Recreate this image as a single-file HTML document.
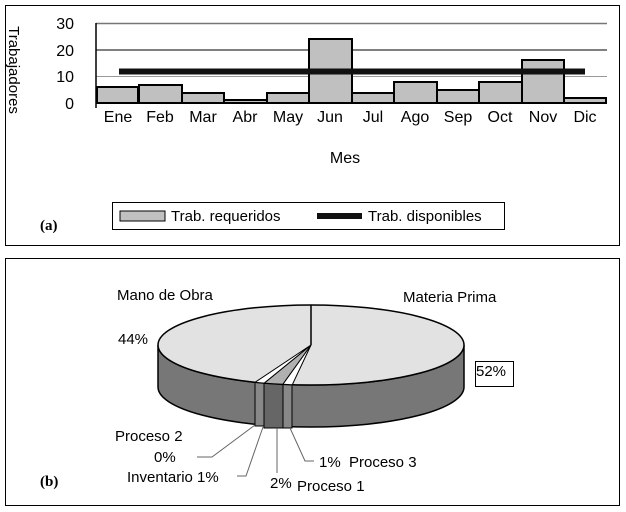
<!DOCTYPE html>
<html><head><style>
body{margin:0;background:#fff;}
svg{display:block;font-family:"Liberation Sans",sans-serif;}
</style></head><body>
<svg width="626" height="512" viewBox="0 0 626 512">
<rect x="5.5" y="5.5" width="614" height="240" fill="#fff" stroke="#000"/>
<rect x="5.5" y="258.5" width="614" height="247" fill="#fff" stroke="#000"/>
<line x1="96" y1="23.5" x2="607" y2="23.5" stroke="#777" stroke-width="1.5"/>
<line x1="96" y1="50" x2="607" y2="50" stroke="#000"/>
<line x1="96" y1="76.5" x2="607" y2="76.5" stroke="#999"/>
<line x1="96" y1="103" x2="607" y2="103" stroke="#000"/>
<line x1="96" y1="23" x2="96" y2="108" stroke="#000" stroke-width="1.5"/>
<g font-size="16" text-anchor="end">
<text x="74" y="29">30</text><text x="74" y="56">20</text><text x="74" y="82">10</text><text x="74" y="109">0</text>
</g>
<g stroke="#000" stroke-width="2" fill="#c0c0c0">
<rect x="97" y="87" width="41" height="16"/>
<rect x="139" y="85" width="43" height="18"/>
<rect x="182" y="93" width="42" height="10"/>
<rect x="224" y="100" width="43" height="3"/>
<rect x="267" y="93" width="42" height="10"/>
<rect x="309" y="39" width="43" height="64"/>
<rect x="352" y="93" width="42" height="10"/>
<rect x="394" y="82" width="43" height="21"/>
<rect x="437" y="90" width="42" height="13"/>
<rect x="479" y="82" width="43" height="21"/>
<rect x="522" y="60" width="42" height="43"/>
<rect x="564" y="98" width="42" height="5"/>
</g>
<line x1="119" y1="71.5" x2="585" y2="71.5" stroke="#111" stroke-width="6"/>
<g font-size="16" text-anchor="middle">
<text x="118" y="122">Ene</text><text x="160" y="122">Feb</text><text x="203" y="122">Mar</text><text x="245" y="122">Abr</text><text x="288" y="122">May</text><text x="330" y="122">Jun</text><text x="373" y="122">Jul</text><text x="415" y="122">Ago</text><text x="458" y="122">Sep</text><text x="500" y="122">Oct</text><text x="543" y="122">Nov</text><text x="585" y="122">Dic</text>
<text x="345" y="163">Mes</text>
</g>
<svg x="6" y="6" width="20" height="120"><text transform="translate(3,64) rotate(90)" font-size="15" text-anchor="middle">Trabajadores</text></svg>
<rect x="112.5" y="202.5" width="392" height="27" fill="#fff" stroke="#000"/>
<rect x="120" y="211" width="45" height="10" fill="#c0c0c0" stroke="#000"/>
<text x="171" y="221" font-size="15">Trab. requeridos</text>
<line x1="317" y1="216" x2="362" y2="216" stroke="#111" stroke-width="6"/>
<text x="368" y="221" font-size="15">Trab. disponibles</text>
<text x="40" y="230" font-size="15" font-weight="bold" font-family="Liberation Serif,serif">(a)</text>
<path d="M158,345 A153,40 0 0 0 464,345 L464,387 A153,40 0 0 1 158,387 Z" fill="#777" stroke="#000" stroke-width="1.5"/>
<rect x="255" y="382" width="9" height="44" fill="#888" stroke="#000"/>
<rect x="264" y="383" width="19" height="45" fill="#666" stroke="#000"/>
<rect x="283" y="384" width="9" height="44" fill="#888" stroke="#000"/>
<ellipse cx="311" cy="345" rx="153" ry="40" fill="#e2e2e2" stroke="#000" stroke-width="1.5"/>
<path d="M311,345 L292.3,384.7 A153,40 0 0 1 282.8,384.3 Z" fill="#fff" stroke="#000"/>
<path d="M311,345 L282.8,384.3 A153,40 0 0 1 264.2,383.1 Z" fill="#b0b0b0" stroke="#000"/>
<path d="M311,345 L264.2,383.1 A153,40 0 0 1 255.2,382.2 Z" fill="#fff" stroke="#000"/>
<line x1="311" y1="305" x2="311" y2="345" stroke="#000" stroke-width="1.5"/>
<g font-size="15">
<text x="117" y="300">Mano de Obra</text>
<text x="403" y="302">Materia Prima</text>
<text x="118" y="344">44%</text>
<rect x="475.5" y="361.5" width="38" height="25" fill="#fff" stroke="#000"/>
<text x="476" y="376">52%</text>
<text x="115" y="441">Proceso 2</text>
<text x="154" y="462">0%</text>
<text x="127" y="482">Inventario 1%</text>
<text x="270" y="488">2%</text>
<text x="297" y="491">Proceso 1</text>
<text x="319" y="467">1%</text>
<text x="349" y="467">Proceso 3</text>
</g>
<g stroke="#666" fill="none">
<polyline points="197,457 212,457 255,425"/>
<polyline points="237,476 246,476 263,427"/>
<polyline points="277,473 277,428"/>
<polyline points="314,461 305,461 290,428"/>
</g>
<text x="40" y="486" font-size="15" font-weight="bold" font-family="Liberation Serif,serif">(b)</text>
</svg>
</body></html>
